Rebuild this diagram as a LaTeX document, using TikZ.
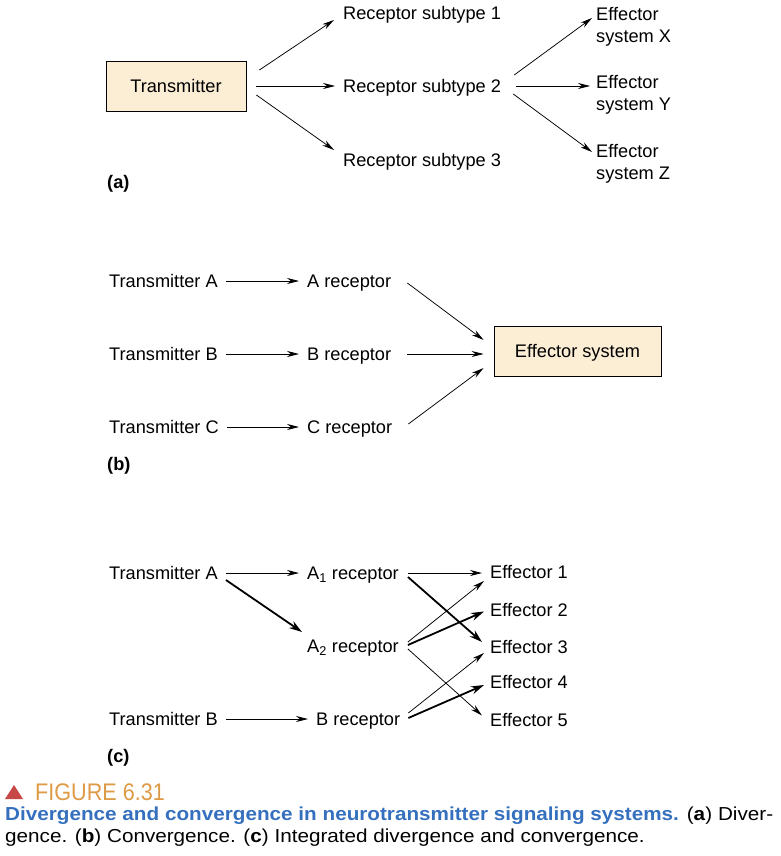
\documentclass[tikz,border=0pt]{standalone}
\usepackage{fontspec}
\setmainfont{Liberation Sans}
\newfontfamily\capfont[FakeStretch=1.1]{Liberation Sans}
\newfontfamily\figfont[FakeStretch=0.9]{Liberation Sans}
\usepackage{xcolor}
\usepackage{tikz}
\usetikzlibrary{arrows.meta}
\definecolor{boxFill}{HTML}{FCEDD5}
\definecolor{capBlue}{HTML}{3570BE}
\definecolor{figOrange}{HTML}{DE9A45}
\definecolor{figRed}{HTML}{C84848}

\begin{document}
\begin{tikzpicture}[
    x=1pt, y=-1pt,
    every node/.style={font=\fontsize{18.2}{22.5}\selectfont},
    lbl/.style={anchor=west, inner xsep=8pt, inner ysep=0pt, text height=13pt, text depth=0pt},
    lbltwo/.style={anchor=north west, align=left, inner xsep=8pt, inner ysep=0pt},
    tag/.style={anchor=west, inner sep=0pt, text height=13pt, text depth=0pt,
      font=\fontsize{18.2}{22.5}\selectfont\bfseries},
    sysbox/.style={draw, line width=0.8pt, fill=boxFill, text height=13pt, text depth=0pt,
      minimum height=50pt},
    arr/.style={line width=0.75pt, -{Stealth[length=12pt, width=6pt]}},
    thk/.style={line width=1.8pt, -{Stealth[length=13pt, width=8pt]}}
  ]
  \useasboundingbox (0,0) rectangle (780,856);

  % ── (a) Divergence ──────────────────────────────────────────────────────
  \node[sysbox, minimum width=140pt] (tr) at (176,86) {Transmitter};
  \node[lbl] (s1) at (335,13) {Receptor subtype 1};
  \node[lbl] (s2) at (335,86) {Receptor subtype 2};
  \node[lbl] (s3) at (335,160) {Receptor subtype 3};
  \node[lbltwo] (ex) at (588,7) {Effector\\system X};
  \node[lbltwo] (ey) at (588,75) {Effector\\system Y};
  \node[lbltwo] (ez) at (588,144) {Effector\\system Z};
  \node[tag] (taga) at (107,182) {(a)};

  \draw[arr] ([xshift=13pt,yshift=16pt]tr.east) -- ([xshift=-1pt,yshift=-7pt]s1.west);
  \draw[arr] ([xshift=10pt]tr.east) -- (s2.west);
  \draw[arr] ([xshift=10pt,yshift=-9pt]tr.east) -- ([xshift=-1pt,yshift=10pt]s3.west);

  \draw[arr] ([xshift=5pt,yshift=11pt]s2.east) -- ([xshift=4pt,yshift=-11pt]ex.north west);
  \draw[arr] ([xshift=7pt]s2.east) -- ([xshift=2pt,yshift=-11pt]ey.north west);
  \draw[arr] ([xshift=4pt,yshift=-8pt]s2.east) -- ([xshift=4pt,yshift=-8pt]ez.north west);

  % ── (b) Convergence ─────────────────────────────────────────────────────
  \node[lbl] (ta) at (101,281) {Transmitter A};
  \node[lbl] (tb) at (101,354) {Transmitter B};
  \node[lbl] (tc) at (101,427) {Transmitter C};
  \node[lbl] (ra) at (299,281) {A receptor};
  \node[lbl] (rb) at (299,354) {B receptor};
  \node[lbl] (rc) at (299,427) {C receptor};
  \node[sysbox, minimum width=167pt] (es) at (577.5,351) {Effector system};
  \node[tag] (tagb) at (107,464) {(b)};

  \draw[arr] (ta.east) -- (ra.west);
  \draw[arr] (tb.east) -- (rb.west);
  \draw[arr] (tc.east) -- (rc.west);

  \draw[arr] ([xshift=8pt,yshift=-2pt]ra.east) -- ([xshift=-10pt,yshift=11pt]es.west);
  \draw[arr] ([xshift=8pt]rb.east) -- ([xshift=-10pt,yshift=-3pt]es.west);
  \draw[arr] ([xshift=8pt,yshift=3pt]rc.east) -- ([xshift=-10pt,yshift=-17pt]es.west);

  % ── (c) Integrated ──────────────────────────────────────────────────────
  \node[lbl] (ca) at (101,573) {Transmitter A};
  \node[lbl] (cb) at (101,719) {Transmitter B};
  \node[lbl] (a1) at (299,573) {A\textsubscript{1} receptor};
  \node[lbl] (a2) at (299,646) {A\textsubscript{2} receptor};
  \node[lbl] (br) at (308,719) {B receptor};
  \node[lbl] (e1) at (482,572) {Effector 1};
  \node[lbl] (e2) at (482,609.5) {Effector 2};
  \node[lbl] (e3) at (482,647) {Effector 3};
  \node[lbl] (e4) at (482,682) {Effector 4};
  \node[lbl] (e5) at (482,719.5) {Effector 5};
  \node[tag] (tagc) at (107,756) {(c)};

  \draw[arr] (ca.east) -- (a1.west);
  \draw[thk] ([yshift=-7pt]ca.east) -- ([xshift=3pt,yshift=14pt]a2.west);
  \draw[arr] (cb.east) -- (br.west);

  % thin = weak link, thick = strong link
  \draw[arr] ([xshift=1pt]a1.east) -- ([yshift=-1pt]e1.west);
  \draw[thk] ([xshift=1pt,yshift=-4pt]a1.east) -- ([yshift=5pt]e3.west);
  \draw[arr] ([xshift=1pt,yshift=4pt]a2.east) -- ([xshift=2pt,yshift=-9pt]e1.west);
  \draw[thk] ([xshift=1pt,yshift=1pt]a2.east) -- ([xshift=2pt,yshift=-2pt]e2.west);
  \draw[arr] ([xshift=1pt,yshift=-3pt]a2.east) -- ([yshift=4pt]e5.west);
  \draw[arr] ([yshift=6pt]br.east) -- ([xshift=2pt,yshift=-6pt]e3.west);
  \draw[thk] ([yshift=1pt]br.east) -- ([xshift=2pt,yshift=-3pt]e4.west);

  % ── Caption ─────────────────────────────────────────────────────────────
  \fill[figRed] (5,799) -- (23,799) -- (14,785) -- cycle;
  \node[anchor=base west, inner sep=0pt, text=figOrange,
    font=\figfont\fontsize{24}{28}\selectfont] (fig) at (35,800) {FIGURE 6.31};
  \node[anchor=base west, inner sep=0pt, font=\capfont\fontsize{18.8}{22}\selectfont] (capone) at (5,820)
    {\makebox[768pt][s]{\textcolor{capBlue}{\bfseries Divergence and convergence in neurotransmitter signaling systems.} (\textbf{a}) Diver-}};
  \node[anchor=base west, inner sep=0pt, font=\capfont\fontsize{18.8}{22}\selectfont] (captwo) at (5,842)
    {gence. (\textbf{b}) Convergence. (\textbf{c}) Integrated divergence and convergence.};

\end{tikzpicture}
\end{document}
